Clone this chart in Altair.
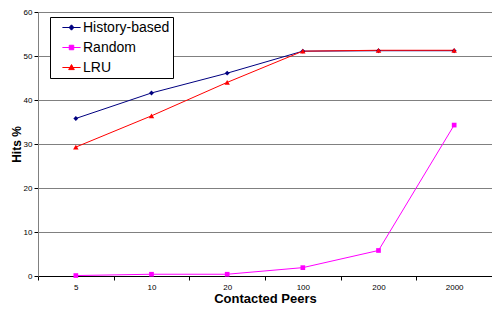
import altair as alt
import pandas as pd

peers = ["5", "10", "20", "100", "200", "2000"]
series_names = ["History-based", "Random", "LRU"]
history = [35.8, 41.6, 46.1, 51.1, 51.2, 51.2]
random_ = [0.1, 0.4, 0.4, 1.9, 5.8, 34.3]
lru = [29.3, 36.4, 44.0, 51.1, 51.3, 51.3]
colors = ["#000080", "#FF00FF", "#FF0000"]
shapes = ["diamond", "square", "triangle-up"]
legend_paths = [
    "M-1.3,0L1.3,0M0,-0.38L0.34,0L0,0.38L-0.34,0Z",
    "M-1.3,0L1.3,0M-0.32,-0.32L0.32,-0.32L0.32,0.32L-0.32,0.32Z",
    "M-1.3,0L1.3,0M0,-0.42L0.4,0.3L-0.4,0.3Z",
]

rows = []
for name, vals in zip(series_names, [history, random_, lru]):
    for p, v in zip(peers, vals):
        rows.append({"peers": p, "hits": v, "series": name})
df = pd.DataFrame(rows)

def pick(values):
    expr = "'" + values[-1] + "'"
    for n, v in reversed(list(zip(series_names[:-1], values[:-1]))):
        expr = f"datum.value === '{n}' ? '{v}' : " + expr
    return expr

FONT = "Liberation Sans"

x = alt.X("peers:N", sort=peers, title="Contacted Peers",
          scale=alt.Scale(type="band", paddingInner=0, paddingOuter=0),
          axis=alt.Axis(labelAngle=0, tickBand="extent", tickSize=4, tickColor="#000000",
                        domainColor="#000000", labelFontSize=8, labelColor="#000000",
                        labelPadding=3, titleFontSize=13, titleFontWeight="bold",
                        titleFont=FONT, labelFont=FONT, titlePadding=1, grid=False))
y = alt.Y("hits:Q", title="Hits %",
          scale=alt.Scale(domain=[0, 60], nice=False),
          axis=alt.Axis(values=[0, 10, 20, 30, 40, 50, 60], tickSize=4, tickColor="#000000",
                        domainColor="#808080", labelFontSize=8, labelColor="#000000",
                        labelPadding=2, gridColor="#808080", gridWidth=1, gridOpacity=1,
                        titleFontSize=12, titleFontWeight="bold", titleFont=FONT,
                        labelFont=FONT, titlePadding=0))
color = alt.Color("series:N", sort=series_names,
                  scale=alt.Scale(domain=series_names, range=colors),
                  legend=alt.Legend(title=None, orient="none", legendX=12, legendY=5,
                                    labelFontSize=14, labelFont=FONT, labelColor="#000000",
                                    fillColor="#ffffff", strokeColor="#000000",
                                    padding=3, symbolOffset=11, labelOffset=4, rowPadding=5,
                                    symbolSize=196, symbolStrokeWidth=1,
                                    symbolType=alt.ExprRef(expr=pick(legend_paths)),
                                    symbolFillColor=alt.ExprRef(expr=pick(colors)),
                                    symbolStrokeColor=alt.ExprRef(expr=pick(colors))))

lines = alt.Chart(df).mark_line(strokeWidth=1).encode(x=x, y=y, color=color, order=alt.Order("series:N"))
layers = [lines]
for name, shp, sz in zip(series_names, shapes, [24, 22, 30]):
    layers.append(
        alt.Chart(df).transform_filter(alt.datum.series == name)
        .mark_point(filled=True, size=sz, opacity=1, shape=shp)
        .encode(x=x, y=y, color=color)
    )

chart = alt.layer(*layers).properties(
    width=454, height=264,
    padding={"left": 30, "top": 4, "right": 0, "bottom": 30},
    autosize=alt.AutoSizeParams(type="none"),
    background="#ffffff",
).configure_view(stroke=None)

chart.save("out.html", embed_options={"renderer": "svg", "actions": False})
